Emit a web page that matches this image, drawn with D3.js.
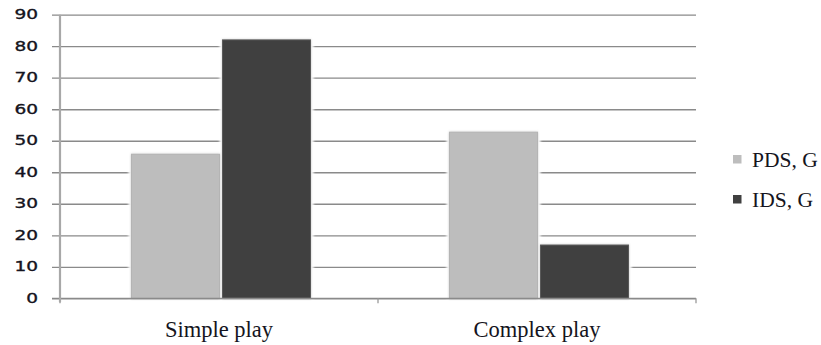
<!DOCTYPE html>
<html>
<head>
<meta charset="utf-8">
<script src="https://cdn.jsdelivr.net/npm/d3@7"></script>
<style>
  html, body { margin: 0; padding: 0; background: #fff; }
  svg { display: block; }
</style>
</head>
<body>
<svg id="chart" width="821" height="345"></svg>
<script>
// Play categories along the x axis
const categories = ["Simple play", "Complex play"];
// Series names shown in the legend
const seriesNames = ["PDS, G", "IDS, G"];
// Values per series, one per category
const pdsValues = [45.7, 52.7];
const idsValues = [82.0, 16.9];
// Y axis ticks
const yTicks = [0, 10, 20, 30, 40, 50, 60, 70, 80, 90];

const seriesValues = [pdsValues, idsValues];
const colors = ["#bdbdbd", "#404040"];
const strokes = ["#b4b4b4", "#5a5a5a"];

const W = 821, H = 345;
const margin = { top: 14.7, right: 125, bottom: 46.7, left: 60 };
const innerW = W - margin.left - margin.right;
const innerH = H - margin.top - margin.bottom;

const svg = d3.select("#chart");

// soft halo/shadow for the bars
const defs = svg.append("defs");
const halo = defs.append("filter").attr("id", "halo")
  .attr("x", "-10%").attr("y", "-10%").attr("width", "120%").attr("height", "120%");
halo.append("feGaussianBlur").attr("stdDeviation", 1.2);
const shadow = defs.append("filter").attr("id", "shadow")
  .attr("x", "-10%").attr("y", "-10%").attr("width", "120%").attr("height", "120%");
shadow.append("feDropShadow").attr("dx", 0).attr("dy", 0)
  .attr("stdDeviation", 1.3).attr("flood-color", "#888").attr("flood-opacity", 0.45);

const g = svg.append("g").attr("transform", `translate(${margin.left},${margin.top})`);

const y = d3.scaleLinear().domain([0, 90]).range([innerH, 0]);
const x0 = d3.scaleBand().domain(categories).range([0, innerW])
  .paddingInner(0.437).paddingOuter(0.2185);
const x1 = d3.scaleBand().domain(seriesNames).range([0, x0.bandwidth()])
  .paddingInner(0.033).paddingOuter(0);

// horizontal gridlines with short ticks to the left of the axis
const grid = d3.axisLeft(y).tickValues(yTicks).tickSize(-innerW).tickFormat("");
const gridG = g.append("g").call(grid);
gridG.select(".domain").remove();
gridG.selectAll(".tick line")
  .attr("x1", -8)
  .attr("stroke", "#8a8a8a")
  .attr("stroke-width", 1.3);

// y tick labels
const yAxisG = g.append("g")
  .call(d3.axisLeft(y).tickValues(yTicks).tickSize(0).tickPadding(22));
yAxisG.select(".domain").remove();
yAxisG.selectAll(".tick text")
  .attr("font-family", "'DejaVu Sans', Verdana, sans-serif")
  .attr("font-size", 14)
  .attr("fill", "#141420")
  .attr("stroke", "#141420")
  .attr("stroke-width", 0.35)
  .attr("dy", "0.36em")
  .attr("y", -1)
  .attr("textLength", d => String(d).length * 11.8)
  .attr("lengthAdjust", "spacingAndGlyphs");

// bars
const groups = g.append("g").selectAll("g")
  .data(categories)
  .join("g")
  .attr("transform", d => `translate(${x0(d) + 2},0)`);

const barData = (c, ci) => seriesNames.map((s, si) => ({ s, si, v: seriesValues[si][ci] }));

groups.each(function(c, ci) {
  const gg = d3.select(this);
  const data = barData(c, ci);
  // white halo that clears the gridlines right around each bar
  gg.selectAll("rect.halo").data(data).join("rect")
    .attr("class", "halo")
    .attr("x", d => x1(d.s) - 3)
    .attr("y", d => y(d.v) - 3)
    .attr("width", x1.bandwidth() + 6)
    .attr("height", d => innerH - y(d.v) + 3)
    .attr("fill", "#fff")
    .attr("filter", "url(#halo)");
  gg.selectAll("rect.bar").data(data).join("rect")
    .attr("class", "bar")
    .attr("x", d => x1(d.s))
    .attr("y", d => y(d.v))
    .attr("width", x1.bandwidth())
    .attr("height", d => innerH - y(d.v))
    .attr("fill", d => colors[d.si])
    .attr("stroke", d => strokes[d.si])
    .attr("stroke-width", 1)
    .attr("filter", "url(#shadow)");
});

// x axis baseline with category ticks
const xAxisG = g.append("g").attr("transform", `translate(0,${innerH})`);
xAxisG.append("line")
  .attr("x1", -8).attr("x2", innerW)
  .attr("stroke", "#8a8a8a").attr("stroke-width", 1.3);
const bounds = [0, x0.step(), innerW];
xAxisG.selectAll("line.tick").data(bounds).join("line")
  .attr("class", "tick")
  .attr("x1", d => d).attr("x2", d => d)
  .attr("y1", 0).attr("y2", 5)
  .attr("stroke", "#9a9a9a").attr("stroke-width", 1.3);
xAxisG.selectAll("text").data(categories).join("text")
  .attr("x", d => x0(d) + x0.bandwidth() / 2)
  .attr("y", 39)
  .attr("text-anchor", "middle")
  .attr("font-family", "'Liberation Serif', 'Times New Roman', serif")
  .attr("font-size", 22.5)
  .attr("fill", "#141420")
  .text(d => d);

// y axis line
g.append("line")
  .attr("x1", 0).attr("x2", 0)
  .attr("y1", 0).attr("y2", innerH + 4)
  .attr("stroke", "#a8a8a8").attr("stroke-width", 2.2);

// legend
const legend = svg.append("g").attr("transform", "translate(733,155)");
const li = legend.selectAll("g").data(seriesNames).join("g")
  .attr("transform", (d, i) => `translate(0,${i * 40})`);
li.append("rect")
  .attr("width", 8.5).attr("height", 8.5)
  .attr("fill", (d, i) => colors[i]);
li.append("text")
  .attr("x", 19)
  .attr("y", 11.7)
  .attr("font-family", "'Liberation Serif', 'Times New Roman', serif")
  .attr("font-size", 21.5)
  .attr("fill", "#141420")
  .text(d => d);
</script>
</body>
</html>
